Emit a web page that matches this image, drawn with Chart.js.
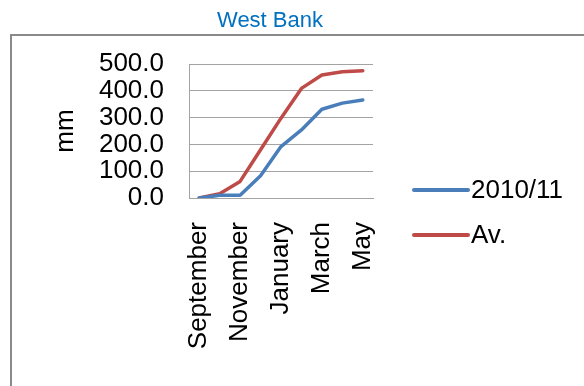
<!DOCTYPE html>
<html>
<head>
<meta charset="utf-8">
<script src="https://cdn.jsdelivr.net/npm/chart.js@4"></script>
<style>
  html, body { margin: 0; padding: 0; background: #fff; overflow: hidden; }
  #wrap { position: relative; width: 584px; height: 386px; }
  #frame { position: absolute; left: 10px; top: 34px; width: 600px; height: 400px; border: 2px solid #8a8a8a; }
  canvas { position: absolute; left: 0; top: 0; }
</style>
</head>
<body>
<div id="wrap">
  <div id="frame"></div>
  <canvas id="c" width="584" height="386"></canvas>
</div>
<script>
// ===== DATA =====
const months   = ['September','October','November','December','January','February','March','April','May']
const rain2010 = [0, 10, 10, 83, 192, 254, 331, 354, 366]
const rainAvg  = [0, 16, 62, 180, 298, 409, 459, 471, 475]
const seriesNames = ['2010/11', 'Av.']

const C = {
  blue:  '#4A7EBB',
  red:   '#BE4B48',
  grid:  '#A3A3A3',
  title: '#0070C0',
  text:  '#000000',
}
const FONT = "'Liberation Sans', Arial, sans-serif"
Chart.defaults.font.family = FONT

// title + legend drawn at fixed spots like the original sheet
const overlay = {
  id: 'overlay',
  afterDraw(chart) {
    const ctx = chart.ctx
    ctx.save()
    ctx.font = '22px ' + FONT
    ctx.fillStyle = C.title
    ctx.textAlign = 'center'
    ctx.textBaseline = 'middle'
    ctx.fillText('West Bank', 270, 21)

    chart.data.datasets.forEach((ds, i) => {
      const y = 190 + i * 45
      ctx.strokeStyle = ds.borderColor
      ctx.lineWidth = 4
      ctx.lineCap = 'round'
      ctx.beginPath(); ctx.moveTo(414, y); ctx.lineTo(468, y); ctx.stroke()
      ctx.fillStyle = C.text
      ctx.textAlign = 'left'
      ctx.font = '26px ' + FONT
      ctx.fillText(ds.label, 471, y + 1)
    })
    ctx.restore()
  }
}

new Chart(document.getElementById('c'), {
  type: 'line',
  data: {
    labels: months,
    datasets: [
      { label: seriesNames[0], data: rain2010, borderColor: C.blue, backgroundColor: C.blue,
        borderWidth: 3.5, pointRadius: 0, tension: 0, borderCapStyle: 'round', borderJoinStyle: 'round' },
      { label: seriesNames[1], data: rainAvg, borderColor: C.red, backgroundColor: C.red,
        borderWidth: 3.5, pointRadius: 0, tension: 0, borderCapStyle: 'round', borderJoinStyle: 'round' },
    ]
  },
  options: {
    responsive: false, animation: false, devicePixelRatio: 1,
    layout: { padding: { left: 50, top: 64, right: 211, bottom: 20 } },
    plugins: { legend: { display: false }, title: { display: false }, tooltip: { enabled: false } },
    scales: {
      x: {
        offset: true,
        grid: { display: false, drawTicks: false },
        border: { display: true, color: C.grid, width: 1 },
        ticks: {
          autoSkip: false, minRotation: 90, maxRotation: 90, padding: 24,
          color: C.text, font: { size: 26 },
          callback: (v, i) => (i % 2 ? '' : months[i])
        },
        afterFit: s => { s.height = 168 }
      },
      y: {
        min: 0, max: 500,
        grid: { color: C.grid, drawTicks: false },
        border: { display: true, color: C.grid, width: 1 },
        ticks: { autoSkip: false, stepSize: 100, padding: 25, color: C.text, font: { size: 26 }, callback: v => v.toFixed(1) },
        title: { display: true, text: 'mm', color: C.text, font: { size: 26 }, padding: 0 },
        afterFit: s => { s.width = 139 }
      }
    }
  },
  plugins: [overlay]
})
</script>
</body>
</html>
